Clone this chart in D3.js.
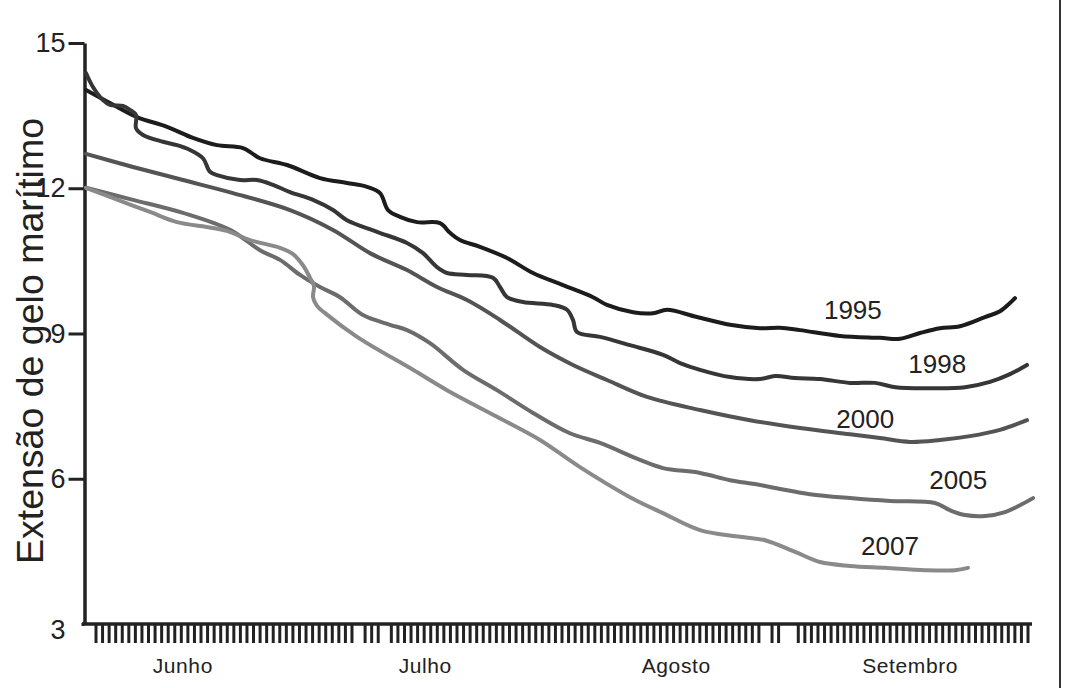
<!DOCTYPE html>
<html>
<head>
<meta charset="utf-8">
<script src="https://cdn.jsdelivr.net/npm/d3@7/dist/d3.min.js"></script>
<style>
  body { margin: 0; background: #fff; }
  svg { display: block; font-family: "Liberation Sans", Arial, Helvetica, sans-serif; }
</style>
</head>
<body>
<svg id="chart" width="1068" height="688"></svg>
<script>
// dias desde 1 de junho, extensão em milhões de km²
var anos = ["1995", "1998", "2000", "2005", "2007"];

var dias1995 = [0, 3.1, 6.58, 10.46, 13.81, 16.91, 20.27, 22.46, 25.95, 30.21, 33.69, 36.28, 37.96, 38.99, 40.54, 42.73, 45.7, 46.99, 48.28, 50.86, 54.35, 57.71, 61.58, 65.45, 67.26, 70.62, 73.2, 75.01, 78.88, 83.14, 87.01, 89.59, 92.18, 97.34, 102.5, 105.09, 107.67, 110.25, 112.83, 116.06, 118.0, 119.93];
var gelo1995 = [14.03, 13.76, 13.47, 13.27, 13.04, 12.89, 12.83, 12.62, 12.48, 12.21, 12.11, 12.03, 11.9, 11.55, 11.41, 11.3, 11.28, 11.08, 10.93, 10.79, 10.56, 10.25, 10.0, 9.75, 9.59, 9.44, 9.42, 9.49, 9.34, 9.18, 9.11, 9.12, 9.07, 8.95, 8.91, 8.89, 9.01, 9.11, 9.15, 9.34, 9.46, 9.73];

var dias1998 = [0, 0.9, 2.19, 3.1, 4.78, 5.68, 6.46, 6.46, 7.36, 9.94, 11.75, 13.43, 15.1, 16.01, 16.91, 19.88, 22.08, 24.14, 26.34, 29.31, 31.89, 33.69, 37.57, 41.44, 43.51, 45.31, 46.6, 49.19, 52.54, 53.45, 54.35, 56.42, 60.29, 62.1, 62.87, 63.39, 66.36, 70.23, 74.49, 76.69, 79.27, 83.14, 87.01, 88.95, 91.53, 94.76, 98.63, 101.86, 104.5, 108.96, 113.48, 116.7, 119.29, 121.48];
var gelo1998 = [14.38, 14.09, 13.82, 13.72, 13.7, 13.62, 13.51, 13.24, 13.1, 12.96, 12.89, 12.79, 12.62, 12.34, 12.27, 12.17, 12.17, 12.07, 11.92, 11.76, 11.55, 11.34, 11.1, 10.87, 10.66, 10.37, 10.25, 10.21, 10.15, 9.96, 9.75, 9.65, 9.59, 9.49, 9.28, 9.03, 8.93, 8.76, 8.56, 8.39, 8.25, 8.1, 8.06, 8.12, 8.08, 8.06, 7.98, 7.98, 7.89, 7.87, 7.89, 8.0, 8.16, 8.35];

var dias2000 = [0, 6.07, 12.52, 18.98, 26.34, 31.89, 36.66, 41.44, 45.31, 49.19, 53.45, 58.61, 62.87, 67.26, 72.42, 79.27, 85.72, 92.18, 98.63, 102.5, 106.38, 110.25, 114.12, 117.99, 121.48];
var gelo2000 = [12.71, 12.44, 12.17, 11.9, 11.55, 11.14, 10.66, 10.31, 9.96, 9.69, 9.28, 8.72, 8.35, 8.04, 7.69, 7.42, 7.21, 7.05, 6.92, 6.84, 6.76, 6.8, 6.88, 7.01, 7.21];

var dias2005 = [0, 6.07, 12.52, 18.59, 22.46, 25.05, 27.63, 30.21, 32.79, 35.76, 39.25, 41.44, 44.41, 48.67, 53.06, 57.71, 62.48, 66.36, 71.52, 74.49, 79.27, 83.14, 86.37, 89.59, 93.47, 98.63, 103.8, 109.6, 111.54, 113.48, 116.06, 118.64, 122.26];
var gelo2005 = [12.01, 11.76, 11.49, 11.14, 10.72, 10.52, 10.21, 9.96, 9.75, 9.38, 9.18, 9.07, 8.8, 8.25, 7.83, 7.36, 6.94, 6.74, 6.39, 6.22, 6.12, 5.97, 5.89, 5.79, 5.68, 5.6, 5.54, 5.5, 5.35, 5.25, 5.23, 5.31, 5.6];

var dias2007 = [0, 3.1, 8.26, 11.75, 15.62, 18.2, 21.17, 25.05, 26.72, 28.01, 28.92, 29.43, 29.31, 29.82, 30.86, 34.99, 42.22, 46.6, 53.06, 58.61, 63.77, 70.23, 74.49, 79.27, 84.43, 87.66, 91.53, 94.76, 98.63, 103.15, 108.32, 112.19, 113.86];
var gelo2007 = [12.01, 11.82, 11.51, 11.3, 11.2, 11.12, 10.93, 10.77, 10.64, 10.41, 10.15, 9.98, 9.75, 9.57, 9.42, 8.93, 8.25, 7.83, 7.28, 6.8, 6.24, 5.62, 5.29, 4.94, 4.8, 4.73, 4.49, 4.28, 4.2, 4.16, 4.11, 4.11, 4.16];

// onde fica o rótulo de cada ano (dia, extensão)
var rotuloDia = [99.0, 109.9, 100.6, 112.6, 103.8];
var rotuloGelo = [9.49, 8.37, 7.25, 5.99, 4.61];

var meses = ["Junho", "Julho", "Agosto", "Setembro"];
var mesDia = [12.5, 43.8, 76.2, 106.4];

var yTicks = [3, 6, 9, 12, 15];

// marcas do eixo x: 143 traços, alguns faltam
var nTracos = 143;
var tracosFaltando = [40, 44, 102, 105, 106];

var cores = ["#1c1c1c", "#363636", "#545454", "#6c6c6c", "#8a8a8a"];

var series = [
  { ano: "1995", dias: dias1995, gelo: gelo1995 },
  { ano: "1998", dias: dias1998, gelo: gelo1998 },
  { ano: "2000", dias: dias2000, gelo: gelo2000 },
  { ano: "2005", dias: dias2005, gelo: gelo2005 },
  { ano: "2007", dias: dias2007, gelo: gelo2007 }
];

var svg = d3.select("#chart");

var x = d3.scaleLinear().domain([0, 122]).range([86, 1031]);
var y = d3.scaleLinear().domain([3, 15]).range([624, 43]);
var xTraco = d3.scaleLinear().domain([0, nTracos - 1]).range([96, 1028]);

// borda direita
svg.append("line")
  .attr("x1", 1060).attr("x2", 1060)
  .attr("y1", 0).attr("y2", 688)
  .attr("stroke", "#333").attr("stroke-width", 2);

// eixo y
var yAxis = svg.append("g")
  .attr("transform", "translate(84.5,0)")
  .call(d3.axisLeft(y).tickValues(yTicks).tickSize(16).tickSizeOuter(0).tickPadding(3));
yAxis.select(".domain").attr("stroke", "#222").attr("stroke-width", 3.5);
yAxis.selectAll(".tick line").attr("stroke", "#222").attr("stroke-width", 3);
yAxis.selectAll(".tick text")
  .attr("font-size", 27).attr("fill", "#222")
  .attr("font-family", "Liberation Sans, Arial, sans-serif");
yAxis.selectAll(".tick").filter(function (d) { return d === 3; }).select("line").attr("x2", -3);
yAxis.selectAll(".tick").filter(function (d) { return d === 3; }).select("text").attr("dy", "0.55em");

// eixo x
var y0 = y(3);
svg.append("line")
  .attr("x1", 82).attr("x2", xTraco.range()[1] + 4)
  .attr("y1", y0).attr("y2", y0)
  .attr("stroke", "#222").attr("stroke-width", 3.5);

var tracos = d3.range(nTracos).filter(function (i) { return tracosFaltando.indexOf(i) < 0; });
svg.append("g").selectAll("line")
  .data(tracos)
  .join("line")
  .attr("x1", function (d) { return xTraco(d); })
  .attr("x2", function (d) { return xTraco(d); })
  .attr("y1", y0 + 1).attr("y2", y0 + 19)
  .attr("stroke", "#222").attr("stroke-width", 3);

svg.append("g").selectAll("text")
  .data(meses)
  .join("text")
  .attr("x", function (d, i) { return x(mesDia[i]); })
  .attr("y", 673)
  .attr("text-anchor", "middle")
  .attr("font-size", 21)
  .attr("letter-spacing", 0.6)
  .attr("fill", "#222")
  .text(function (d) { return d; });

// título do eixo y
svg.append("text")
  .attr("transform", "translate(43,341) rotate(-90)")
  .attr("text-anchor", "middle")
  .attr("font-size", 37.5)
  .attr("fill", "#222")
  .text("Extensão de gelo marítimo");

// linhas
var linha = d3.line()
  .x(function (d) { return x(d[0]); })
  .y(function (d) { return y(d[1]); })
  .curve(d3.curveCatmullRom.alpha(0.5));

svg.append("g").selectAll("path")
  .data(series)
  .join("path")
  .attr("d", function (s) { return linha(d3.zip(s.dias, s.gelo)); })
  .attr("fill", "none")
  .attr("stroke", function (s, i) { return cores[i]; })
  .attr("stroke-width", 4)
  .attr("stroke-linecap", "round")
  .attr("stroke-linejoin", "round");

svg.append("g").selectAll("text")
  .data(anos)
  .join("text")
  .attr("x", function (d, i) { return x(rotuloDia[i]); })
  .attr("y", function (d, i) { return y(rotuloGelo[i]); })
  .attr("dy", "0.36em")
  .attr("text-anchor", "middle")
  .attr("font-size", 26)
  .attr("fill", "#222")
  .text(function (d) { return d; });
</script>
</body>
</html>
